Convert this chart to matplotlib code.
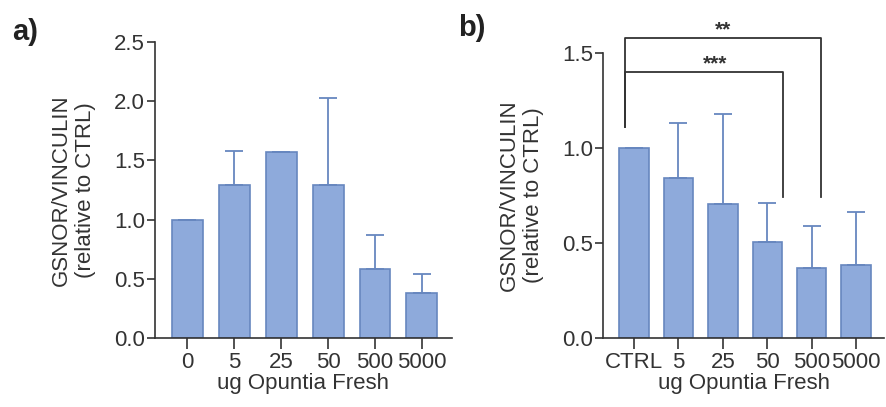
import matplotlib
matplotlib.use('Agg')
import matplotlib.pyplot as plt
import numpy as np

plt.rcParams['font.family'] = ['Liberation Sans', 'DejaVu Sans']

ink = '#333333'
bar_fill = '#8eaadb'
bar_edge = '#6787bf'

# panel a: GSNOR / vinculin vs dose
doses_a = ['0', '5', '25', '50', '500', '5000']
means_a = [1.0, 1.29, 1.57, 1.29, 0.58, 0.38]
err_a = [0.0, 0.29, 0.0, 0.74, 0.29, 0.16]

# panel b: same readout, control vs dose
doses_b = ['CTRL', '5', '25', '50', '500', '5000']
means_b = [1.0, 0.84, 0.705, 0.505, 0.37, 0.385]
err_b = [0.0, 0.29, 0.475, 0.205, 0.22, 0.28]

# significance brackets for panel b: (left x, right x, top y, left foot, right foot, stars, star x)
brackets_b = [
    (-0.2, 4.21, 1.58, 1.11, 0.74, '**', 2.0),
    (-0.2, 3.36, 1.40, 1.11, 0.74, '***', 1.82),
]

ylabel = 'GSNOR/VINCULIN\n(relative to CTRL)'
xlabel = 'ug Opuntia Fresh'
fs = 16


def style_axes(ax, ymax, step):
    for side in ('top', 'right'):
        ax.spines[side].set_visible(False)
    for side in ('left', 'bottom'):
        ax.spines[side].set_color(ink)
        ax.spines[side].set_linewidth(1.2)
    ax.set_ylim(0, ymax)
    ticks = np.arange(0, ymax + 0.001, step)
    ax.set_yticks(ticks)
    ax.set_yticklabels(['%.1f' % v for v in ticks])
    ax.tick_params(axis='y', length=6, width=1.2, color=ink, pad=1,
                   labelsize=fs, labelcolor=ink)
    ax.tick_params(axis='x', length=8, width=1.2, color=ink, pad=2,
                   labelsize=fs, labelcolor=ink)
    ax.set_ylabel(ylabel, fontsize=fs, color=ink, labelpad=13)
    ax.set_xlabel(xlabel, fontsize=fs, color=ink, labelpad=0)


def draw_bars(ax, labels, means, errs):
    x = np.arange(len(labels))
    ax.bar(x, means, width=0.66, color=bar_fill, edgecolor=bar_edge,
           linewidth=1.2, zorder=2)
    ax.errorbar(x, means, yerr=[np.zeros(len(errs)), errs], fmt='none',
                ecolor=bar_edge, elinewidth=1.3, capsize=6.5, capthick=1.3,
                zorder=3)
    ax.set_xticks(x)
    ax.set_xticklabels(labels)


fig = plt.figure(figsize=(8.86, 4.07), dpi=100)

ax_a = fig.add_axes([0.1749, 0.1695, 0.3352, 0.7273])
draw_bars(ax_a, doses_a, means_a, err_a)
ax_a.set_xlim(-0.69, 5.64)
style_axes(ax_a, 2.5, 0.5)

ax_b = fig.add_axes([0.6806, 0.1695, 0.3172, 0.7002])
draw_bars(ax_b, doses_b, means_b, err_b)
ax_b.set_xlim(-0.70, 5.63)
style_axes(ax_b, 1.5, 0.5)

for x0, x1, top, foot0, foot1, stars, sx in brackets_b:
    ax_b.plot([x0, x0, x1, x1], [foot0, top, top, foot1], color=ink,
              lw=1.3, clip_on=False, zorder=4)
    ax_b.text(sx, top + 0.012, stars, ha='center', va='baseline',
              fontsize=15, fontweight='bold', color=ink, clip_on=False)

fig.text(12 / 886, 1 - 18 / 407, 'a)', fontsize=21, fontweight='bold',
         ha='left', va='top', color='#222222')
fig.text(458 / 886, 1 - 14 / 407, 'b)', fontsize=21, fontweight='bold',
         ha='left', va='top', color='#222222')

fig.savefig('out.png', dpi=100)
